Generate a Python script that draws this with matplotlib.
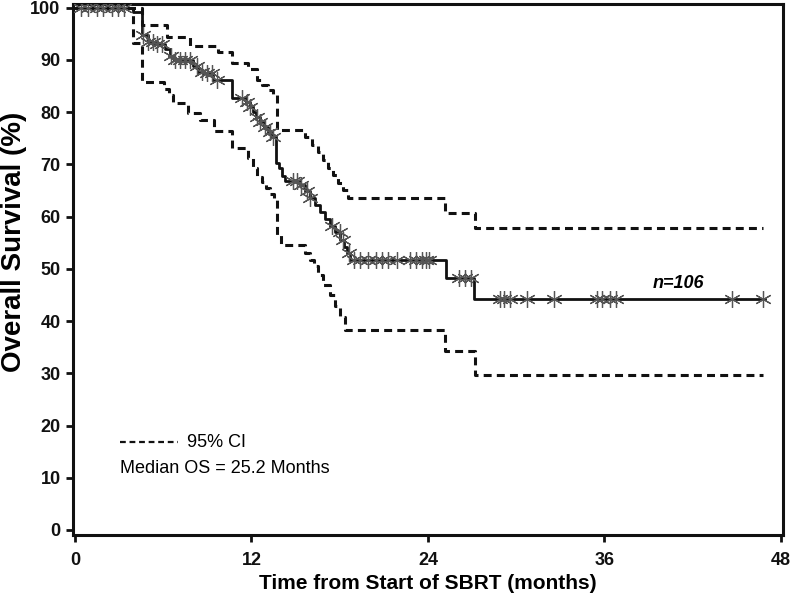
import matplotlib
matplotlib.use("Agg")
import matplotlib.pyplot as plt
import numpy as np

# ---- data ----
km_t = [0, 3.94, 4.55, 4.96, 5.44, 6.12, 6.46, 6.73, 8.02, 8.36, 8.70, 9.38, 10.67,
        11.62, 11.90, 12.10, 12.30, 12.58, 12.85, 13.12, 13.39, 13.66, 13.87, 14.07,
        14.28, 15.30, 15.64, 15.98, 16.32, 16.66, 17.00, 17.34, 17.68, 18.01, 18.29,
        18.49, 18.69, 25.22, 27.12]
km_s = [100, 99.2, 94.8, 93.5, 93.1, 92.0, 90.8, 90.0, 88.9, 87.7, 87.4, 86.2, 82.8,
        82.0, 81.0, 80.1, 79.1, 78.2, 77.2, 76.2, 75.3, 70.3, 69.3, 67.8,
        66.9, 66.1, 64.9, 63.6, 62.3, 60.9, 59.6, 58.2, 57.1, 55.6, 54.2,
        53.1, 51.7, 48.3, 44.3]
km_end = 46.9

up_t = [0, 4.55, 6.25, 7.82, 9.72, 10.67, 11.76, 12.37, 12.71, 13.12, 13.46, 13.73,
        15.64, 16.11, 16.52, 16.86, 17.20, 17.54, 17.88, 18.22, 18.56, 25.15, 27.19]
up_s = [100, 96.7, 94.4, 92.7, 91.6, 89.5, 88.3, 86.2, 85.2, 84.3, 83.3, 76.6,
        75.3, 73.8, 72.4, 70.9, 69.3, 68.0, 66.5, 65.1, 63.6, 60.7, 57.9]

lo_t = [0, 3.94, 4.55, 6.05, 6.39, 6.66, 7.68, 8.50, 9.45, 10.67, 11.76, 12.10, 12.37,
        12.71, 12.98, 13.26, 13.53, 13.73, 14.00, 15.64, 15.98, 16.25, 16.52, 16.86,
        17.34, 17.68, 18.01, 18.35, 25.15, 27.19]
lo_s = [100, 93.3, 85.8, 84.5, 83.3, 81.8, 79.9, 78.4, 76.4, 73.2, 71.3, 69.3, 67.6,
        66.7, 65.5, 64.4, 63.2, 56.5, 54.6, 53.1, 51.7, 50.6, 48.9, 46.9,
        45.0, 42.9, 40.8, 38.3, 34.3, 29.7]
ci_end = 46.77

censor_t = [0.4, 0.9, 1.5, 1.9, 2.5, 2.9, 3.3,
            4.65, 4.96, 5.3, 5.57, 5.9,
            6.5, 6.8, 7.14, 7.48, 7.82,
            8.29, 8.63, 8.97, 9.31, 9.65,
            11.35, 11.69, 11.9,
            12.37, 12.58, 12.9, 13.26, 13.46,
            14.8, 15.1, 15.4, 15.8, 16.0,
            17.5, 18.0, 18.2, 18.6,
            19.0, 19.4, 19.9, 20.5, 20.9, 21.3, 21.9, 22.8, 23.2, 23.6, 23.9, 24.1,
            26.1, 26.5, 26.9,
            28.9, 29.2, 29.6, 30.7, 32.6, 35.5, 35.8, 36.4, 36.8, 44.7, 46.8]

xticks = [0, 12, 24, 36, 48]
yticks = [0, 10, 20, 30, 40, 50, 60, 70, 80, 90, 100]

plt.rcParams['font.family'] = ['Liberation Sans', 'DejaVu Sans']

fig = plt.figure(figsize=(7.9, 6.05), dpi=100)
ax = fig.add_axes([73/790, 1-535/605, (783-73)/790, (535-3.5)/605])

def step_xy(t, s, end):
    return list(t) + [end], list(s) + [s[-1]]

x, y = step_xy(km_t, km_s, km_end)
ax.step(x, y, where='post', color='#111111', lw=2.0, zorder=3)

dash = (0, (2.6, 1.7))
x, y = step_xy(up_t, up_s, ci_end)
ax.step(x, y, where='post', color='#111111', lw=2.2, linestyle=dash, zorder=2)
x, y = step_xy(lo_t, lo_s, ci_end)
ax.step(x, y, where='post', color='#111111', lw=2.2, linestyle=dash, zorder=2)

# censor marks: survival value at censor time from the KM step function
km_t_arr = np.array(km_t)
km_s_arr = np.array(km_s)
cy = [km_s_arr[np.searchsorted(km_t_arr, c, side='right') - 1] for c in censor_t]
ax.plot(censor_t, cy, linestyle='none', marker=(6, 2, 0), markersize=12,
        markeredgecolor='#555555', markeredgewidth=0.9, zorder=4)

ax.set_xlim(-0.136, 48.14)
ax.set_ylim(-0.96, 100.8)
ax.set_xticks(xticks)
ax.set_yticks(yticks)
ax.set_xticklabels([str(v) for v in xticks], fontsize=13, fontweight='bold')
ax.set_yticklabels([str(v) for v in yticks], fontsize=13, fontweight='bold')
ax.tick_params(direction='out', length=5, width=2, colors='#111111')
ax.tick_params(axis='x', pad=7)
ax.tick_params(axis='y', pad=4)
for sp in ax.spines.values():
    sp.set_linewidth(2.2)
    sp.set_color('#111111')

ax.set_xlabel('Time from Start of SBRT (months)', fontsize=15, fontweight='bold', labelpad=4)
ax.set_ylabel('Overall Survival (%)', fontsize=20, fontweight='bold')
ax.yaxis.set_label_coords((27 - 73) / 710, (535 - 242) / 531.5)

# legend-like annotation
ax.plot([3.07, 7.0], [16.8, 16.8], color='#111111', lw=1.6, linestyle=(0, (2.6, 1.7)))
ax.text(7.6, 16.8, '95% CI', fontsize=13, va='center', ha='left')
ax.text(3.07, 11.8, 'Median OS = 25.2 Months', fontsize=13, va='center', ha='left')
ax.text(41.0, 47.2, 'n=106', fontsize=13, fontweight='bold', style='italic',
        va='center', ha='center')

fig.savefig('out.png', dpi=100)
